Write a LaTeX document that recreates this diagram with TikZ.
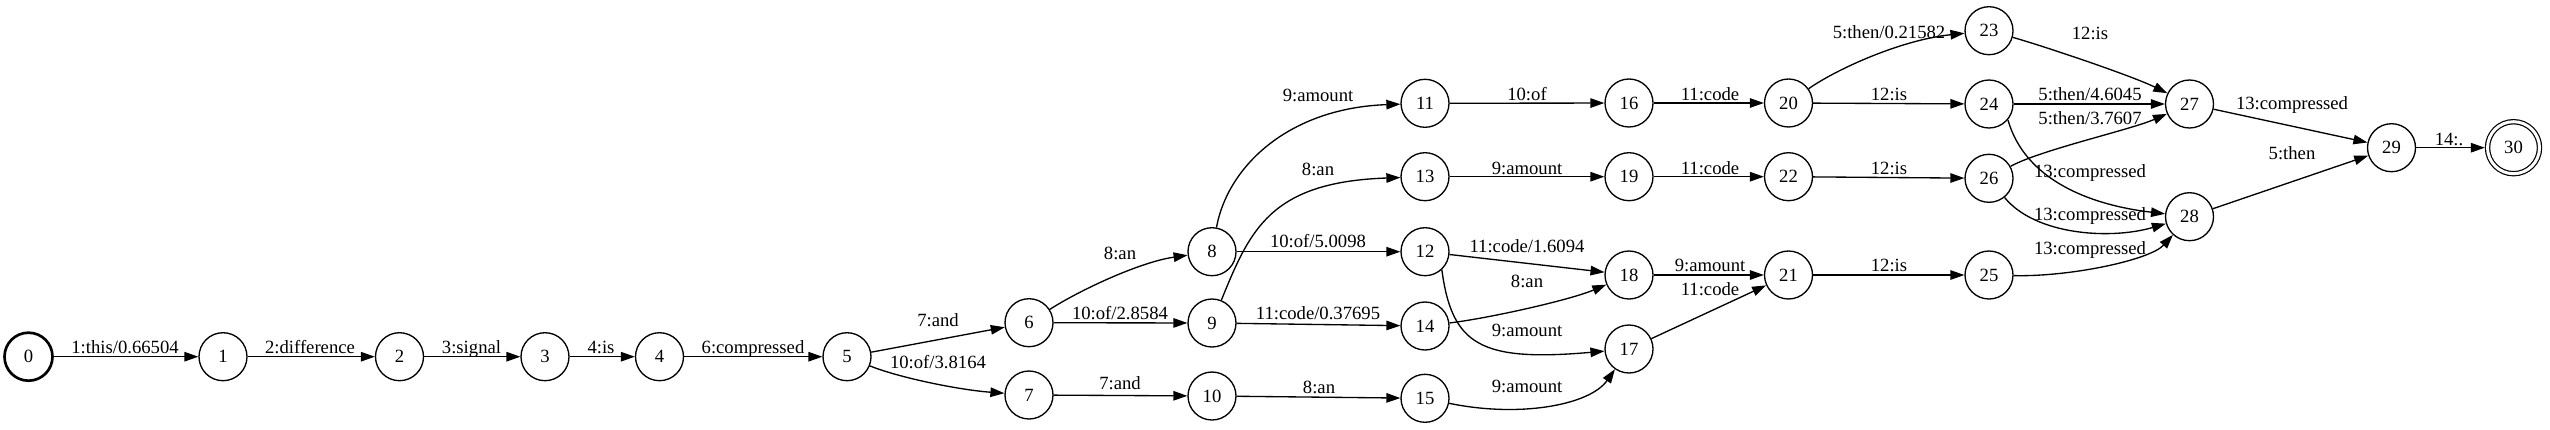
\documentclass[tikz,border=0pt]{standalone}
\usepackage{fontspec}
\setmainfont{Liberation Serif}
\usetikzlibrary{arrows.meta}

\tikzset{
  state/.style={circle, draw, line width=1.33pt, minimum size=48pt, inner sep=0pt},
  start/.style={state, line width=2.67pt},
  final/.style={state, double, line width=1.2pt, double distance=3pt, minimum size=52pt, outer sep=2.7pt},
  lab/.style={anchor=base, inner sep=0pt},
  tr/.style={line width=1.33pt, -{Triangle[length=14pt,width=9.5pt]}},
}

\begin{document}
\begin{tikzpicture}[x=1pt, y=-1pt, font=\fontsize{18.67}{22}\selectfont]
\useasboundingbox (0,0) rectangle (2550,429);

% states
\node[start] (s0) at (28.5,356.7) {0};
\node[state] (s1) at (223,356.7) {1};
\node[state] (s2) at (399.5,356.7) {2};
\node[state] (s3) at (545,356.7) {3};
\node[state] (s4) at (659.5,356.7) {4};
\node[state] (s5) at (847,356.7) {5};
\node[state] (s6) at (1029,322.7) {6};
\node[state] (s7) at (1029,395) {7};
\node[state] (s8) at (1212,251.7) {8};
\node[state] (s9) at (1212,323) {9};
\node[state] (s10) at (1212,396) {10};
\node[state] (s11) at (1425,103.3) {11};
\node[state] (s12) at (1425,251.7) {12};
\node[state] (s13) at (1425,176.7) {13};
\node[state] (s14) at (1425,326) {14};
\node[state] (s15) at (1425,398.3) {15};
\node[state] (s16) at (1629,103) {16};
\node[state] (s17) at (1629,349) {17};
\node[state] (s18) at (1629,275) {18};
\node[state] (s19) at (1629,176.7) {19};
\node[state] (s20) at (1788.5,103) {20};
\node[state] (s21) at (1788.5,275) {21};
\node[state] (s22) at (1788.5,176.7) {22};
\node[state] (s23) at (1989,30.7) {23};
\node[state] (s24) at (1989,104) {24};
\node[state] (s25) at (1989,275) {25};
\node[state] (s26) at (1989,178.3) {26};
\node[state] (s27) at (2189.5,104) {27};
\node[state] (s28) at (2189.5,216.7) {28};
\node[state] (s29) at (2391.5,147.7) {29};
\node[final] (s30) at (2513.5,147.7) {30};

% arcs
\draw[tr] (s0) -- (s1) node[lab] at (125,353) {1:this/0.66504};
\draw[tr] (s1) -- (s2) node[lab] at (310,353) {2:difference};
\draw[tr] (s2) -- (s3) node[lab] at (471.5,353) {3:signal};
\draw[tr] (s3) -- (s4) node[lab] at (601,353) {4:is};
\draw[tr] (s4) -- (s5) node[lab] at (753,353) {6:compressed};
\draw[tr] (s5) -- (s6) node[lab] at (938,326.5) {7:and};
\draw[tr] (s5) .. controls (900,378) and (960,390) .. (s7) node[lab] at (938,368.5) {10:of/3.8164};
\draw[tr] (s6) .. controls (1080,290) and (1140,262) .. (s8) node[lab] at (1120,259.5) {8:an};
\draw[tr] (s6) -- (s9) node[lab] at (1120,319) {10:of/2.8584};
\draw[tr] (s7) -- (s10) node[lab] at (1120,389.5) {7:and};
\draw[tr] (s8) .. controls (1228,165) and (1290,108) .. (s11) node[lab] at (1318,101.5) {9:amount};
\draw[tr] (s8) -- (s12) node[lab] at (1318,247.5) {10:of/5.0098};
\draw[tr] (s9) .. controls (1250,230) and (1270,182) .. (s13) node[lab] at (1318,175) {8:an};
\draw[tr] (s9) -- (s14) node[lab] at (1318,319) {11:code/0.37695};
\draw[tr] (s10) -- (s15) node[lab] at (1319,393) {8:an};
\draw[tr] (s11) -- (s16) node[lab] at (1527,100.5) {10:of};
\draw[tr] (s13) -- (s19) node[lab] at (1527,174.5) {9:amount};
\draw[tr] (s12) -- (s18) node[lab] at (1527,252.5) {11:code/1.6094};
\draw[tr] (s14) .. controls (1490,318) and (1570,300) .. (s18) node[lab] at (1527,287.5) {8:an};
\draw[tr] (s12.-47) .. controls (1452,345) and (1480,362) .. (s17) node[lab] at (1527,336.5) {9:amount};
\draw[tr] (s15) .. controls (1520,418) and (1590,405) .. (s17) node[lab] at (1527,392.5) {9:amount};
\draw[tr] (s16) -- (s20) node[lab] at (1710,100.5) {11:code};
\draw[tr] (s19) -- (s22) node[lab] at (1710,174.5) {11:code};
\draw[tr] (s18) -- (s21) node[lab] at (1710,271.5) {9:amount};
\draw[tr] (s17) -- (s21) node[lab] at (1710,295) {11:code};
\draw[tr] (s20) .. controls (1835,70) and (1900,40) .. (s23) node[lab] at (1889,38) {5:then/0.21582};
\draw[tr] (s20) -- (s24) node[lab] at (1889,100.5) {12:is};
\draw[tr] (s22) -- (s26) node[lab] at (1889,174.5) {12:is};
\draw[tr] (s21) -- (s25) node[lab] at (1889,271.5) {12:is};
\draw[tr] (s23) .. controls (2040,45) and (2130,75) .. (s27) node[lab] at (2090,39) {12:is};
\draw[tr] (s24) -- (s27) node[lab] at (2090,100.5) {5:then/4.6045};
\draw[tr] (s26) .. controls (2040,150) and (2130,130) .. (s27) node[lab] at (2090,124) {5:then/3.7607};
\draw[tr] (s24.-40) .. controls (2025,180) and (2090,205) .. (s28) node[lab] at (2090,177.5) {13:compressed};
\draw[tr] (s26) .. controls (2035,235) and (2110,240) .. (s28) node[lab] at (2090,220.5) {13:compressed};
\draw[tr] (s25) .. controls (2070,277) and (2150,260) .. (s28) node[lab] at (2090,254) {13:compressed};
\draw[tr] (s27) -- (s29) node[lab] at (2292,109.5) {13:compressed};
\draw[tr] (s28) -- (s29) node[lab] at (2292,159.5) {5:then};
\draw[tr] (s29) -- (s30) node[lab] at (2449,145.5) {14:.};
\end{tikzpicture}
\end{document}
